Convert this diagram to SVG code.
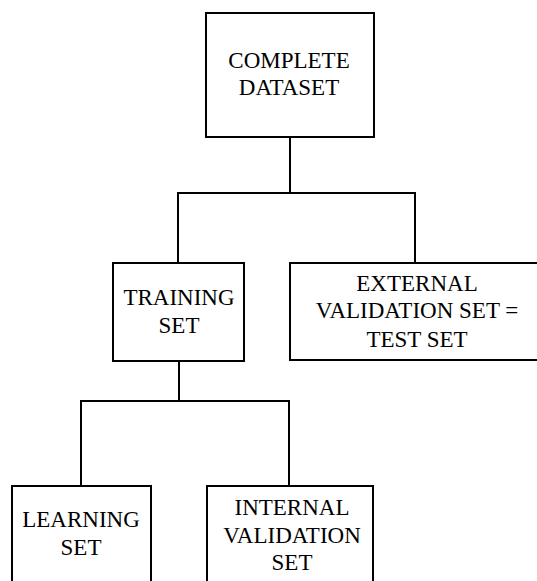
<svg xmlns="http://www.w3.org/2000/svg" width="537" height="581" viewBox="0 0 537 581">
<style>
.box{fill:#fff;stroke:#000;stroke-width:2}
.ln{fill:none;stroke:#000;stroke-width:2}
.t{font-family:'Times New Roman','Liberation Serif','DejaVu Serif',serif;font-size:23px;fill:#000;text-anchor:middle}
</style>
<rect width="537" height="581" fill="#fff"/>
<g id="connectors">
<path class="ln" d="M290 137V193M178 263V193H415V263"/>
<path class="ln" d="M179 361V401M81 486V401H289V486"/>
</g>
<g id="complete">
<rect class="box" x="206" y="13" width="168" height="124"/>
<text class="t" x="289" y="68">COMPLETE</text>
<text class="t" x="289" y="95">DATASET</text>
</g>
<g id="training">
<rect class="box" x="113" y="263" width="131" height="98"/>
<text class="t" x="179" y="305">TRAINING</text>
<text class="t" x="179" y="333">SET</text>
</g>
<g id="external">
<rect class="box" x="290" y="263" width="260" height="97"/>
<text class="t" x="417" y="291">EXTERNAL</text>
<text class="t" x="417" y="318">VALIDATION SET =</text>
<text class="t" x="417" y="347">TEST SET</text>
</g>
<g id="learning">
<rect class="box" x="12" y="486" width="139" height="110"/>
<text class="t" x="81" y="527">LEARNING</text>
<text class="t" x="81" y="555">SET</text>
</g>
<g id="internal">
<rect class="box" x="207" y="486" width="166" height="110"/>
<text class="t" x="292" y="515">INTERNAL</text>
<text class="t" x="292" y="543">VALIDATION</text>
<text class="t" x="292" y="570">SET</text>
</g>
</svg>
